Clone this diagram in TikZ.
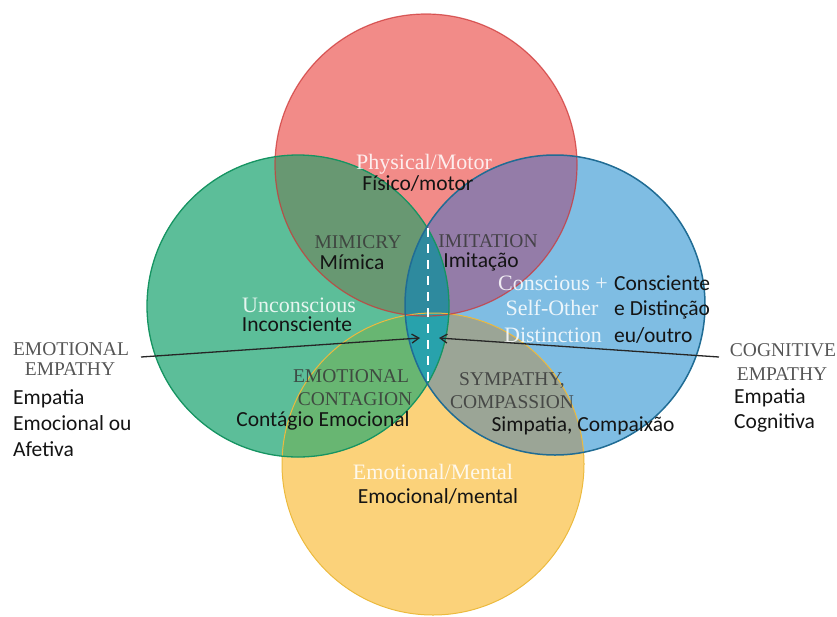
\documentclass[tikz,border=0pt]{standalone}
\usepackage{fontspec}
\setmainfont{Liberation Serif}
\newfontfamily\labelsans{Carlito}
\usetikzlibrary{arrows.meta}

% circle fills
\definecolor{redfill}{RGB}{242,139,136}
\definecolor{greenfill}{RGB}{92,190,153}
\definecolor{bluefill}{RGB}{127,189,227}
\definecolor{yellowfill}{RGB}{251,210,122}
% overlap fills
\definecolor{rgfill}{RGB}{104,152,114}
\definecolor{rbfill}{RGB}{148,124,168}
\definecolor{gyfill}{RGB}{104,182,114}
\definecolor{byfill}{RGB}{155,165,150}
\definecolor{gbfill}{RGB}{44,152,166}
\definecolor{rgbfill}{RGB}{46,138,158}
\definecolor{gbyfill}{RGB}{40,162,172}
% outlines
\definecolor{redline}{RGB}{205,55,55}
\definecolor{greenline}{RGB}{22,148,98}
\definecolor{blueline}{RGB}{32,108,148}
\definecolor{yellowline}{RGB}{236,186,62}

\def\circR{(426,165) circle [radius=151pt]}
\def\circG{(298,306) circle [radius=151pt]}
\def\circB{(555,305) circle [radius=150pt]}
\def\circY{(433,464) circle [radius=151pt]}

\tikzset{
  whitelbl/.style={text=white, text opacity=0.85, inner sep=0pt,
    font=\fontsize{22}{25}\selectfont, anchor=base},
  darklbl/.style={text=black!78, text opacity=0.85, inner sep=0pt,
    font=\fontsize{19.5}{22}\selectfont, anchor=base},
  ptlbl/.style={text=black!92, inner sep=0pt,
    font=\labelsans\fontsize{21.5}{25}\selectfont, anchor=base},
  ptlblw/.style={ptlbl, anchor=base west},
  pointer/.style={draw=black!85, line width=1.3pt,
    -{Straight Barb[length=7pt,width=9pt,line width=1.3pt]}},
  divider/.style={draw=white, line width=2.6pt, dash pattern=on 9pt off 7pt}
}

\begin{document}
\begin{tikzpicture}[x=1pt,y=-1pt]
\useasboundingbox (0,0) rectangle (837,616);

% base discs
\fill[yellowfill] \circY;
\fill[redfill] \circR;
\fill[greenfill] \circG;
\fill[bluefill] \circB;

% pairwise overlaps
\begin{scope}\clip \circR; \fill[rgfill] \circG; \end{scope}
\begin{scope}\clip \circR; \fill[rbfill] \circB; \end{scope}
\begin{scope}\clip \circY; \fill[gyfill] \circG; \end{scope}
\begin{scope}\clip \circY; \fill[byfill] \circB; \end{scope}
\begin{scope}\clip \circG; \fill[gbfill] \circB; \end{scope}
% triple overlaps inside the central lens
\begin{scope}\clip \circG; \clip \circB; \fill[rgbfill] \circR; \end{scope}
\begin{scope}\clip \circG; \clip \circB; \fill[gbyfill] \circY; \end{scope}

% outlines
\draw[yellowline, line width=1pt] \circY;
\draw[redline, draw opacity=0.75, line width=1.2pt] \circR;
\draw[greenline, line width=1.3pt] \circG;
\draw[blueline, line width=1.5pt] \circB;

% self/other divider
\coordinate (divtop) at (428,228);
\coordinate (divbot) at (428,385);
\draw[divider] (divtop) -- (divbot);

% circle captions
\node[whitelbl] (phys) at (424,169) {Physical/Motor};
\node[ptlbl] (fisico) at (418,190) {Físico/motor};
\node[whitelbl] (uncon) at (299,312) {Unconscious};
\node[ptlbl] (incon) at (297,331) {Inconsciente};
\node[whitelbl] (consc1) at (553,290) {Conscious +};
\node[whitelbl] (consc2) at (552,315) {Self-Other};
\node[whitelbl] (consc3) at (553,342) {Distinction};
\node[ptlblw] (cpt1) at (614,290) {Consciente};
\node[ptlblw] (cpt2) at (614,315) {e Distinção};
\node[ptlblw] (cpt3) at (614,342) {eu/outro};
\node[whitelbl] (emo) at (433,479) {Emotional/Mental};
\node[ptlbl] (emopt) at (438,503) {Emocional/mental};

% overlap captions
\node[darklbl] (mim) at (358,248) {MIMICRY};
\node[ptlbl] (mimpt) at (352,269) {Mímica};
\node[darklbl] (imi) at (488,247) {IMITATION};
\node[ptlbl] (imipt) at (481,267) {Imitação};
\node[darklbl] (cont1) at (351,382) {EMOTIONAL};
\node[darklbl] (cont2) at (355,405) {CONTAGION};
\node[ptlbl] (contpt) at (323,426) {Contágio Emocional};
\node[darklbl] (sym1) at (512,385) {SYMPATHY,};
\node[darklbl] (sym2) at (512,408) {COMPASSION};
\node[ptlbl] (sympt) at (583,431) {Simpatia, Compaixão};

% side labels
\node[darklbl] (ee1) at (71,355) {EMOTIONAL};
\node[darklbl] (ee2) at (70,375) {EMPATHY};
\node[ptlblw] (eept1) at (13,404) {Empatia};
\node[ptlblw] (eept2) at (13,430) {Emocional ou};
\node[ptlblw] (eept3) at (13,456) {Afetiva};
\node[darklbl] (ce1) at (783,356) {COGNITIVE};
\node[darklbl] (ce2) at (782,380) {EMPATHY};
\node[ptlblw] (cept1) at (734,403) {Empatia};
\node[ptlblw] (cept2) at (734,428) {Cognitiva};

% pointers into the central lens
\coordinate (lstart) at (141,357);
\coordinate (lend) at (420,338);
\coordinate (rstart) at (719,357);
\coordinate (rend) at (439,338);
\draw[pointer] (lstart) -- (lend);
\draw[pointer] (rstart) -- (rend);
\end{tikzpicture}
\end{document}
